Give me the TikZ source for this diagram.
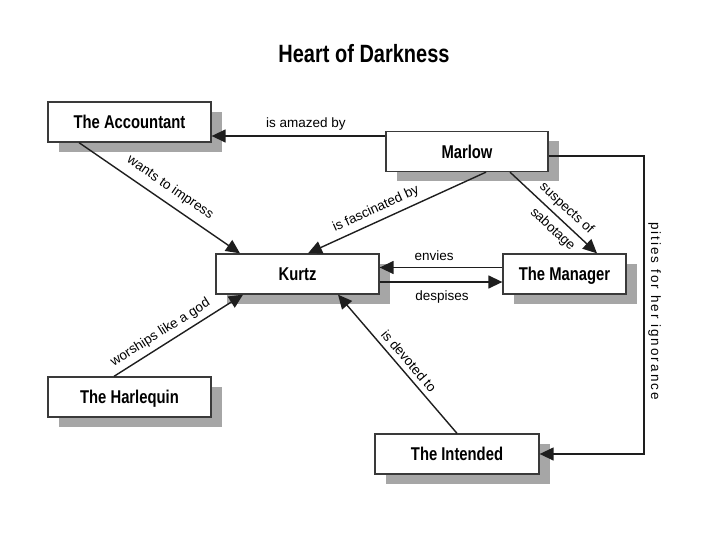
\documentclass[tikz,border=0pt]{standalone}
\usepackage{fontspec}
\setmainfont{Liberation Sans}
\newfontfamily\condfont{Liberation Sans}[FakeStretch=0.8]
\usetikzlibrary{arrows.meta,shadows,calc}
\definecolor{shadowgray}{HTML}{A6A6A6}
\definecolor{boxline}{HTML}{3A3A3A}
\definecolor{edgecol}{HTML}{1E1E1E}
\tikzset{
  charbox/.style={draw=boxline, line width=1.3pt, fill=white, minimum height=40pt,
    inner sep=0pt, text height=13.4pt, text depth=0pt,
    font=\condfont\bfseries\fontsize{18.5}{22}\selectfont,
    drop shadow={shadow xshift=11pt, shadow yshift=-10pt, fill=shadowgray, opacity=1}},
  rel/.style={draw=edgecol, line width=1.4pt, -{Triangle[length=14pt,width=13pt]}},
  lbl/.style={font=\fontsize{13.5}{16}\selectfont, inner sep=0pt, text=black},
}
\begin{document}
\begin{tikzpicture}[x=1pt,y=-1pt]
\useasboundingbox (0,0) rectangle (720,540);
\fill[white] (0,0) rectangle (720,540);

\node[font=\condfont\bfseries\fontsize{25}{30}\selectfont, anchor=base] (title) at (364,63) {Heart of Darkness};

\node[charbox, minimum width=163pt] (acc) at (129.5,122) {The Accountant};
\node[charbox, minimum width=162pt] (mar) at (467,151.5) {Marlow};
\node[charbox, minimum width=163pt] (kur) at (297.5,274) {Kurtz};
\node[charbox, minimum width=123pt] (man) at (564.5,274) {The Manager};
\node[charbox, minimum width=163pt] (har) at (129.5,397) {The Harlequin};
\node[charbox, minimum width=164pt] (int) at (457,454) {The Intended};

\coordinate (mA) at ([yshift=15.5pt]mar.west);
\draw[rel] (mA) -- node[lbl, above=5pt, pos=0.457] (l1) {is amazed by} (mA -| acc.east);

\draw[rel] ([xshift=-50.5pt]acc.south) -- node[lbl, sloped, above=7.5pt, pos=0.515] (l2) {wants to impress} ([xshift=-57.5pt]kur.north);

\draw[rel] ([xshift=19pt]mar.south) -- node[lbl, sloped, above=5pt, pos=0.59] (l3) {is fascinated by} ([xshift=10.5pt]kur.north);

\draw[rel] ([xshift=43pt]mar.south) -- node[lbl, sloped, above=5pt, pos=0.555] (l4) {suspects of}
  node[lbl, sloped, below=6pt, pos=0.59] (l5) {sabotage} ([xshift=32.5pt]man.north);

\draw[rel] ([yshift=6.5pt]man.west) -- node[lbl, above=6pt, pos=0.556] (l6) {envies} ([yshift=6.5pt]kur.east);
\draw[rel] ([yshift=-8pt]kur.east) -- node[lbl, below=8pt, pos=0.508] (l7) {despises} ([yshift=-8pt]man.west);

\draw[rel] ([xshift=-15.5pt]har.north) -- node[lbl, sloped, above=5pt, pos=0.41] (l8) {worships like a god} ([xshift=-54.5pt]kur.south);

\draw[rel] (int.north) -- node[lbl, sloped, above=5pt, pos=0.472] (l9) {is devoted to} ([xshift=40.5pt]kur.south);

\coordinate (mI) at ([yshift=-4.5pt]mar.east);
\coordinate (rc) at (644,156);
\draw[rel] (mI) -- (mI -| rc) -- node[lbl, rotate=-90, above=3.5pt, pos=0.52] (l10) {\addfontfeature{LetterSpace=15}pities for her ignorance} (rc |- int.east) -- (int.east);
\end{tikzpicture}
\end{document}
